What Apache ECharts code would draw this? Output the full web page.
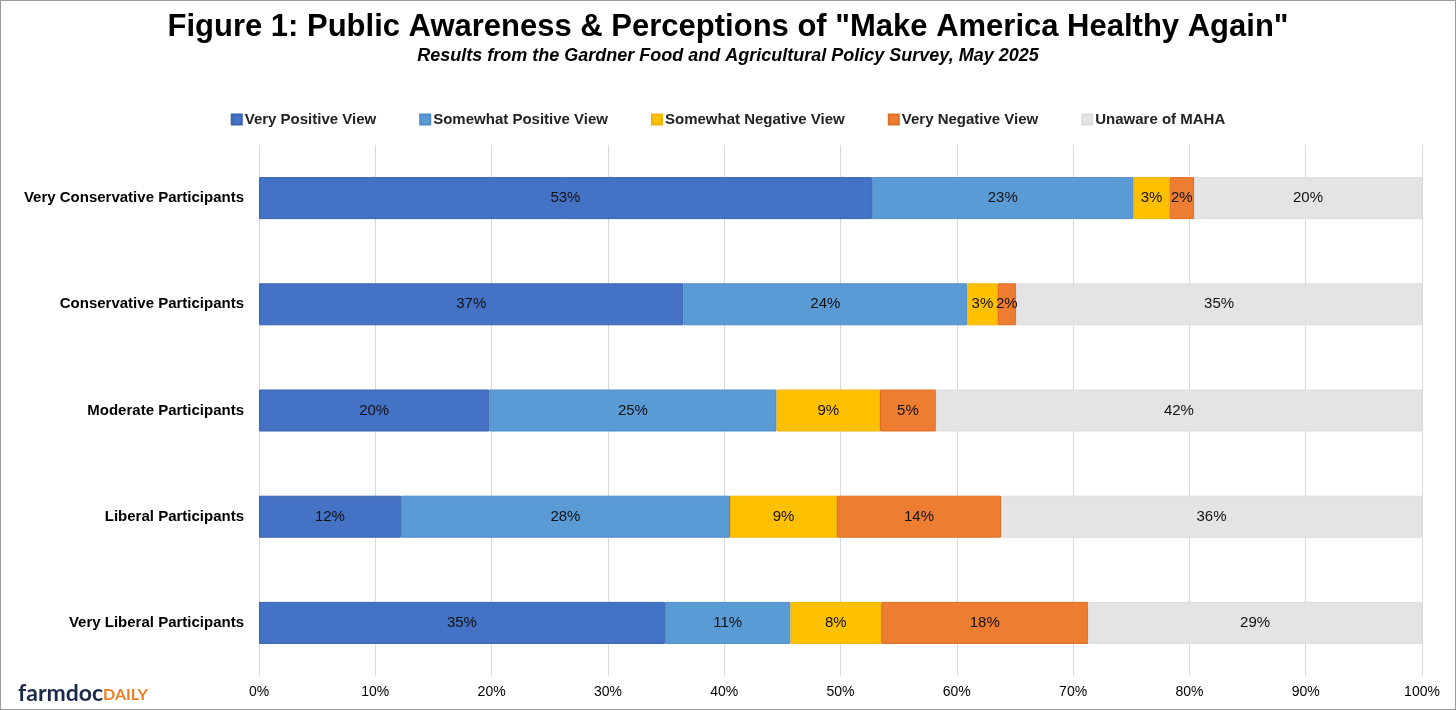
<!DOCTYPE html>
<html><head><meta charset="utf-8">
<script src="https://cdn.jsdelivr.net/npm/echarts@6/dist/echarts.min.js"></script>
<style>
html,body{margin:0;padding:0;background:#fff;}
#c{width:1454px;height:708px;border:1px solid #9a9a9a;}
</style></head><body>
<div id="c"></div>
<script>
const categories = ["Very Conservative Participants","Conservative Participants","Moderate Participants","Liberal Participants","Very Liberal Participants"];
const seriesNames = ["Very Positive View","Somewhat Positive View","Somewhat Negative View","Very Negative View","Unaware of MAHA"];
const veryPositive = [52.7, 36.5, 19.8, 12.2, 34.9];
const somewhatPositive = [22.5, 24.4, 24.7, 28.3, 10.8];
const somewhatNegative = [3.1, 2.6, 8.9, 9.2, 7.8];
const veryNegative = [2.1, 1.6, 4.8, 14.1, 17.8];
const unaware = [19.6, 34.9, 41.8, 36.2, 28.7];
const xTicks = [0,10,20,30,40,50,60,70,80,90,100];

const colors = ["#4472C4","#5B9BD5","#FFC000","#ED7D31","#E4E4E4"];
const borders = ["#3a64b0","#4f8cc5","#f0b400","#dc6e25","#dcdcdc"];
const dataSets = [veryPositive, somewhatPositive, somewhatNegative, veryNegative, unaware];
const FF = 'Liberation Sans, Arial, sans-serif';

const chart = echarts.init(document.getElementById('c'));
chart.setOption({
  animation:false,
  textStyle:{fontFamily:FF},
  title:{
    text:'Figure 1: Public Awareness & Perceptions of "Make America Healthy Again"',
    subtext:'Results from the Gardner Food and Agricultural Policy Survey, May 2025',
    left:'center', top:6, itemGap:4,
    textStyle:{fontSize:31,fontWeight:'bold',color:'#000',fontFamily:FF},
    subtextStyle:{fontSize:18,fontWeight:'bold',fontStyle:'italic',color:'#000',fontFamily:FF}
  },
  legend:{
    top:106, left:'center', itemWidth:10, itemHeight:10, itemGap:43,
    icon:'rect',
    textStyle:{fontSize:15,fontWeight:'bold',color:'#222',fontFamily:FF,padding:[0,0,0,-2]},
    data:seriesNames
  },
  grid:{left:258,right:33,top:144,bottom:33,containLabel:false},
  xAxis:{
    type:'value',min:0,max:100,interval:10,
    axisLabel:{formatter:v=>v+'%',fontSize:14,color:'#000',fontFamily:FF,margin:9},
    splitLine:{lineStyle:{color:'#d9d9d9'}},
    axisLine:{show:false},axisTick:{show:false}
  },
  yAxis:{
    type:'category',data:categories,inverse:true,
    axisLabel:{fontSize:15,fontWeight:'bold',color:'#000',fontFamily:FF,margin:15},
    axisLine:{show:false},axisTick:{show:false}
  },
  series: seriesNames.map((n,i)=>({
    name:n,type:'bar',stack:'total',barWidth:42,
    itemStyle:{color:colors[i],borderColor:borders[i],borderWidth:1},
    label:{show:true,position:'inside',fontSize:15,color:'#111',fontFamily:FF,formatter:p=>Math.round(p.value)+'%'},
    data:dataSets[i]
  })),
  graphic:[{
    type:'text',left:17,top:681,
    style:{
      text:'{a|farmdoc}{b|DAILY}',
      rich:{
        a:{fontSize:23,fontWeight:'bold',fill:'#1b2a4a',fontFamily:'Lato, Liberation Sans, sans-serif'},
        b:{fontSize:16,fontWeight:'bold',fill:'#ee7d24',fontFamily:'Lato, Liberation Sans, sans-serif',padding:[3,0,0,0]}
      }
    }
  }]
});
</script>
</body></html>
